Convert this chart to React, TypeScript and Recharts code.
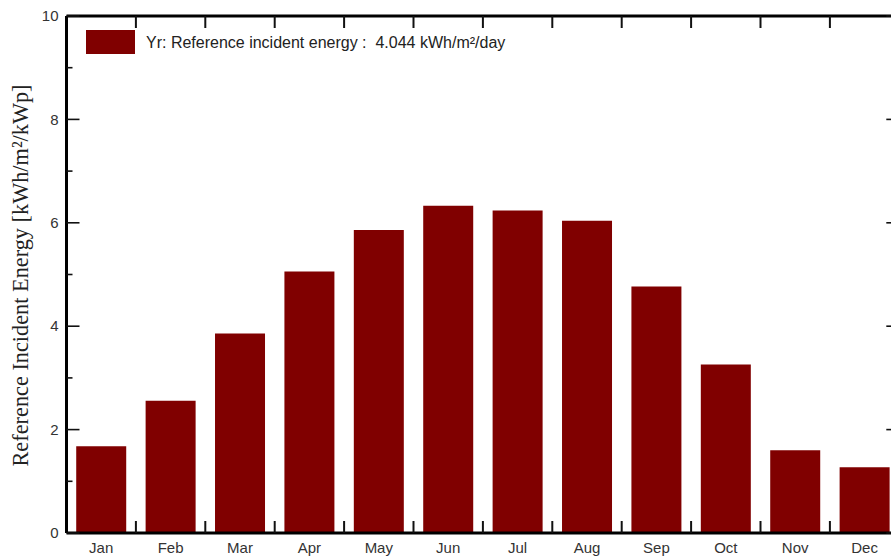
import React from 'react';
import { BarChart, Bar, XAxis, YAxis, Legend } from 'recharts';

const months = ['Jan', 'Feb', 'Mar', 'Apr', 'May', 'Jun', 'Jul', 'Aug', 'Sep', 'Oct', 'Nov', 'Dec'];
const incidentEnergy = [1.68, 2.56, 3.86, 5.06, 5.86, 6.33, 6.24, 6.04, 4.77, 3.26, 1.6, 1.27];
const yTicks = [0, 1, 2, 3, 4, 5, 6, 7, 8, 9, 10];
const legendLabel = 'Yr: Reference incident energy :  4.044 kWh/m\u00b2/day';
const yAxisTitle = 'Reference Incident Energy [kWh/m\u00b2/kWp]';

const data = months.map((m, i) => ({ month: m, value: incidentEnergy[i] }));

const BAR_COLOR = '#800000';
const TICK_COLOR = '#111';
const SANS = '"Liberation Sans", Arial, sans-serif';
const SERIF = '"Liberation Serif", "Times New Roman", serif';

const halfBand = (props: any) => {
  const p = props.payload || {};
  const o = Number(p.offset);
  if (Number.isFinite(o) && o > 0) return o;
  const n = Number(props.visibleTicksCount) || months.length;
  const w = Number(props.width);
  return Number.isFinite(w) && w > 0 ? w / (2 * n) : 0;
};

const BottomTick = (props: any) => {
  const { x, y, payload } = props;
  const h = halfBand(props);
  const last = payload.value === months[months.length - 1];
  return (
    <g>
      {!last && <path d={`M${x + h},${y} L${x + h},${y - 12}`} stroke={TICK_COLOR} strokeWidth={2} fill="none" />}
      <text x={x} y={y + 15} dy="0.35em" textAnchor="middle" fontSize={15} fill="#333" fontFamily={SANS}>
        {payload.value}
      </text>
    </g>
  );
};

const TopTick = (props: any) => {
  const { x, y, payload } = props;
  const h = halfBand(props);
  const last = payload.value === months[months.length - 1];
  return (
    <g>
      {!last && <path d={`M${x + h},${y} L${x + h},${y + 12}`} stroke={TICK_COLOR} strokeWidth={2} fill="none" />}
    </g>
  );
};

const LeftTick = (props: any) => {
  const { x, y, payload } = props;
  const v = payload.value;
  const major = v % 2 === 0;
  return (
    <g>
      <path d={`M${x},${y} L${x + (major ? 13 : 6)},${y}`} stroke={TICK_COLOR} strokeWidth={1.6} fill="none" />
      {major && (
        <text x={x - 8} y={y} dy="0.35em" textAnchor="end" fontSize={15} fill="#333" fontFamily={SANS}>
          {v}
        </text>
      )}
    </g>
  );
};

const RightTick = (props: any) => {
  const { x, y, payload } = props;
  const major = payload.value % 2 === 0;
  return (
    <g>
      <path d={`M${x},${y} L${x - (major ? 13 : 6)},${y}`} stroke={TICK_COLOR} strokeWidth={1.6} fill="none" />
    </g>
  );
};

const LegendContent = () => (
  <div style={{ display: 'flex', alignItems: 'center', fontFamily: SANS, fontSize: 16, color: '#222', whiteSpace: 'pre' }}>
    <span style={{ display: 'inline-block', width: 49, height: 24, background: BAR_COLOR, marginRight: 11 }} />
    <span style={{ position: 'relative', top: 1 }}>{legendLabel}</span>
  </div>
);

const YTitle = (props: any) => {
  const vb = props.viewBox || {};
  const cx = (vb.x || 0) + 20;
  const cy = (vb.y || 0) + (vb.height || 0) / 2 + 1;
  return (
    <text
      x={cx}
      y={cy}
      transform={`rotate(-90 ${cx} ${cy})`}
      textAnchor="middle"
      dominantBaseline="central"
      fontSize={22.3}
      fill="#222"
      fontFamily={SERIF}
    >
      {yAxisTitle}
    </text>
  );
};

export default function App() {
  return (
    <div style={{ position: 'absolute', left: 0, top: 0, width: 891, height: 559, overflow: 'hidden', background: '#fff' }}>
      <BarChart
        width={910}
        height={559}
        data={data}
        margin={{ top: 15, right: 0.7, left: 0, bottom: 0 }}
        barCategoryGap="14%"
      >
        <XAxis
          xAxisId="c"
          dataKey="month"
          orientation="bottom"
          height={26}
          axisLine={{ stroke: '#000', strokeWidth: 3 }}
          tickLine={false}
          tickSize={0}
          tickMargin={0}
          interval={0}
          tick={<BottomTick />}
        />
        <XAxis
          xAxisId="t"
          dataKey="month"
          orientation="top"
          height={1}
          axisLine={{ stroke: '#000', strokeWidth: 3 }}
          tickLine={false}
          tickSize={0}
          tickMargin={0}
          interval={0}
          tick={<TopTick />}
        />
        <YAxis
          yAxisId="l"
          orientation="left"
          width={66.5}
          domain={[0, 10]}
          allowDataOverflow
          ticks={yTicks}
          interval={0}
          tickSize={0}
          tickMargin={0}
          tickLine={false}
          axisLine={{ stroke: '#000', strokeWidth: 3 }}
          tick={<LeftTick />}
          label={<YTitle />}
        />
        <YAxis
          yAxisId="r"
          orientation="right"
          width={10}
          domain={[0, 10]}
          allowDataOverflow
          ticks={yTicks}
          interval={0}
          tickSize={0}
          tickMargin={0}
          tickLine={false}
          axisLine={{ stroke: '#000', strokeWidth: 3 }}
          tick={<RightTick />}
        />
        <Legend
          layout="horizontal"
          verticalAlign="middle"
          align="center"
          wrapperStyle={{ left: 86, top: 30, width: 'auto', height: 'auto' }}
          content={<LegendContent />}
        />
        <Bar
          xAxisId="c"
          yAxisId="l"
          dataKey="value"
          name={legendLabel}
          fill={BAR_COLOR}
          isAnimationActive={false}
        />
      </BarChart>
    </div>
  );
}
